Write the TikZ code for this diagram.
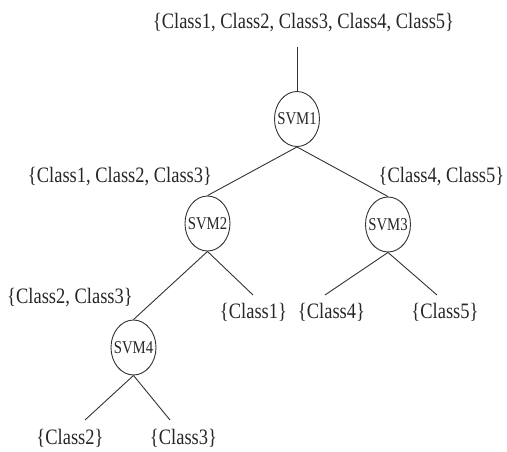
\documentclass[tikz,border=0pt]{standalone}
\usepackage{fontspec}
\setmainfont{Liberation Serif}
\usetikzlibrary{shapes.geometric}
\newcommand{\narrowtxt}[1]{\scalebox{0.84}[1]{#1}}
\newcommand{\svmtxt}[1]{\makebox[0pt]{\scalebox{0.82}[1]{#1}}}
\tikzset{
  lbl/.style={inner sep=0pt, anchor=base, font=\fontsize{22}{24}\selectfont, text=black!85},
  svm/.style={ellipse, draw=black!80, line width=0.9pt, minimum width=45pt, minimum height=55pt, inner sep=0pt, font=\fontsize{18}{20}\selectfont, text=black!85},
  edge/.style={draw=black!80, line width=0.9pt}
}
\begin{document}
\begin{tikzpicture}[x=1pt,y=-1pt]
\useasboundingbox (0,0) rectangle (507,451);
% labels
\node[lbl] (lall) at (303.5,28) {\narrowtxt{\{Class1, Class2, Class3, Class4, Class5\}}};
\node[lbl] (l123) at (120,182) {\narrowtxt{\{Class1, Class2, Class3\}}};
\node[lbl] (l45) at (441.5,182) {\narrowtxt{\{Class4, Class5\}}};
\node[lbl] (l23) at (70,303) {\narrowtxt{\{Class2, Class3\}}};
\node[lbl] (l1) at (253.5,318) {\narrowtxt{\{Class1\}}};
\node[lbl] (l4) at (331.5,318) {\narrowtxt{\{Class4\}}};
\node[lbl] (l5) at (445,318) {\narrowtxt{\{Class5\}}};
\node[lbl] (l2) at (70,444) {\narrowtxt{\{Class2\}}};
\node[lbl] (l3) at (183.5,444) {\narrowtxt{\{Class3\}}};
% classifiers
\node[svm] (s1) at (297,119) {\svmtxt{SVM1}};
\node[svm] (s2) at (207.5,223.5) {\svmtxt{SVM2}};
\node[svm] (s3) at (388,224.5) {\svmtxt{SVM3}};
\node[svm] (s4) at (133.5,347.5) {\svmtxt{SVM4}};
% free ends
\coordinate (top) at (297,47);
\coordinate (e1) at (253,295);
\coordinate (e4) at (325,295);
\coordinate (e5) at (437,295);
\coordinate (e2) at (85,420);
\coordinate (e3) at (170,420);
% connectors
\draw[edge] (top) -- (s1.north);
\draw[edge] (s1.south) -- (s2.north);
\draw[edge] (s1.south) -- (s3.north);
\draw[edge] (s2.south) -- (s4.north);
\draw[edge] (s2.south) -- (e1);
\draw[edge] (s3.south) -- (e4);
\draw[edge] (s3.south) -- (e5);
\draw[edge] (s4.south) -- (e2);
\draw[edge] (s4.south) -- (e3);
\end{tikzpicture}
\end{document}
